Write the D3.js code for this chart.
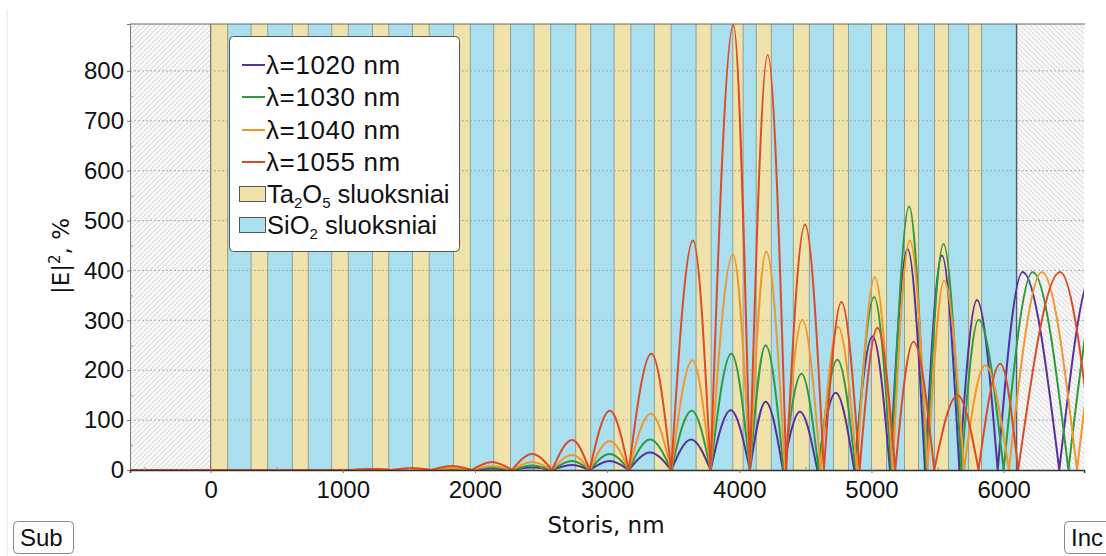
<!DOCTYPE html>
<html>
<head>
<meta charset="UTF-8">
<title>|E|2 pasiskirstymas veidrodyje</title>
<script src="https://cdn.jsdelivr.net/npm/d3@7"></script>
<style>
  body { margin: 0; background: #fff; }
  svg text { font-family: "Liberation Sans", Arial, sans-serif; fill: #111; }
</style>
</head>
<body>
<svg id="svg" width="1106" height="556"></svg>
<script>
// sluoksniu storiai, nm (pradedant nuo padeklo puses: Ta2O5, SiO2, Ta2O5, ...)
var ta2o5 = [129, 126, 121, 126, 124, 127, 127, 127, 127, 114, 127, 127, 114, 78, 114, 121, 114, 114, 106, 106, 98];
var sio2  = [177, 186, 177, 182, 179, 184, 177, 177, 189, 177, 177, 189, 164, 99, 167, 182, 174, 136, 121, 152, 265];

var xTicks = [0, 1000, 2000, 3000, 4000, 5000, 6000];
var yTicks = [0, 100, 200, 300, 400, 500, 600, 700, 800];

var seriesNames = ["λ=1020 nm", "λ=1030 nm", "λ=1040 nm", "λ=1055 nm"];

// |E|^2, % : nuliai ir maksimumai pakaitomis [storis nm, reiksme]
var e1020 = [[-610, 0], [230, 0], [1065, 0], [1220, 0.3], [1370, 0], [1523, 0.6], [1672, 0], [1826, 1.5], [1975, 0],
  [2129, 3], [2280, 0], [2433, 5], [2583, 0], [2735, 10], [2868, 0], [3020, 18], [3164, 0], [3325, 35], [3485, 0],
  [3635, 61], [3783, 0], [3935, 120], [4080, 0], [4199, 137], [4330, 0], [4459, 117], [4590, 0], [4730, 155], [4870, 0],
  [5008, 268], [5140, 0], [5273, 443], [5405, 0], [5533, 430], [5665, 0], [5798, 341], [5955, 0], [6144, 397], [6421, 0],
  [6676, 397], [6930, 0]];
var e1030 = [[-610, 0], [230, 0], [1065, 0], [1220, 0.5], [1370, 0], [1523, 1], [1672, 0], [1826, 2.5], [1975, 0],
  [2129, 5], [2280, 0], [2433, 9], [2583, 0], [2735, 18], [2868, 0], [3020, 32], [3164, 0], [3325, 61], [3485, 0],
  [3640, 119], [3783, 0], [3940, 233], [4080, 0], [4199, 250], [4335, 0], [4470, 193], [4600, 0], [4742, 221], [4880, 0],
  [5020, 347], [5150, 0], [5285, 528], [5415, 0], [5545, 453], [5680, 0], [5810, 301], [6000, 0], [6220, 397], [6490, 0],
  [6750, 397], [7010, 0]];
var e1040 = [[-610, 0], [230, 0], [1065, 0], [1220, 1], [1370, 0], [1523, 2], [1672, 0], [1826, 4], [1975, 0],
  [2129, 8], [2280, 0], [2433, 16], [2583, 0], [2735, 30], [2868, 0], [3020, 58], [3164, 0], [3330, 113], [3485, 0],
  [3645, 220], [3783, 0], [3952, 432], [4080, 0], [4204, 438], [4345, 0], [4477, 301], [4615, 0], [4747, 287], [4890, 0],
  [5025, 387], [5160, 0], [5290, 460], [5425, 0], [5550, 380], [5700, 0], [5860, 210], [6040, 0], [6290, 397], [6555, 0],
  [6820, 397], [7080, 0]];
var e1055 = [[-610, 0], [230, 0], [1065, 0], [1220, 2], [1370, 0], [1523, 4], [1672, 0], [1826, 8], [1975, 0],
  [2129, 16], [2280, 0], [2433, 32], [2583, 0], [2735, 60], [2868, 0], [3020, 119], [3164, 0], [3335, 233], [3485, 0],
  [3650, 460], [3783, 0], [3955, 892], [4080, 0], [4215, 832], [4355, 0], [4497, 492], [4640, 0], [4773, 337], [4910, 0],
  [5045, 285], [5180, 0], [5318, 257], [5475, 0], [5651, 150], [5810, 0], [5975, 213], [6110, 0], [6427, 397], [6690, 0]];

var colors = ["#55309a", "#2e9a3c", "#f3962a", "#dc4a26"];
var taColor = "#efe2ab", siColor = "#a9dfee";

var svg = d3.select("svg");
var pLeft = 130, pRight = 1084, pTop = 24, pBottom = 470;

var x = d3.scaleLinear().domain([-610, 6608]).range([pLeft, pRight]);
var y = d3.scaleLinear().domain([0, 894]).range([pBottom, pTop]);

var defs = svg.append("defs");
defs.append("clipPath").attr("id", "plotClip")
    .append("rect").attr("x", pLeft).attr("y", pTop).attr("width", pRight - pLeft).attr("height", pBottom - pTop);

function hatch(id, d) {
    var p = defs.append("pattern").attr("id", id).attr("patternUnits", "userSpaceOnUse")
        .attr("width", 5).attr("height", 5);
    p.append("rect").attr("width", 5).attr("height", 5).attr("fill", "#f7f7f7");
    p.append("path").attr("d", d).attr("stroke", "#d6d6d6").attr("stroke-width", 0.9);
}
hatch("hatchSub", "M-1,1 l2,-2 M0,5 l5,-5 M4,6 l2,-2");
hatch("hatchInc", "M-1,4 l2,2 M0,0 l5,5 M4,-1 l2,2");

// panelio krastas
svg.append("line").attr("x1", 7).attr("x2", 7).attr("y1", 10).attr("y2", 556)
    .attr("stroke", "#e2e2e2");

// sluoksniai
var layers = [];
var z = 0;
for (var i = 0; i < ta2o5.length; i++) {
    layers.push({ x0: z, x1: z + ta2o5[i], fill: taColor }); z += ta2o5[i];
    layers.push({ x0: z, x1: z + sio2[i], fill: siColor }); z += sio2[i];
}
var stackEnd = z;

var plot = svg.append("g").attr("clip-path", "url(#plotClip)");

plot.append("rect").attr("x", pLeft).attr("y", pTop)
    .attr("width", x(0) - pLeft).attr("height", pBottom - pTop).attr("fill", "url(#hatchSub)");
plot.append("rect").attr("x", x(stackEnd)).attr("y", pTop)
    .attr("width", pRight - x(stackEnd)).attr("height", pBottom - pTop).attr("fill", "url(#hatchInc)");

plot.selectAll("rect.layer").data(layers).enter().append("rect")
    .attr("class", "layer")
    .attr("x", function (d) { return x(d.x0); })
    .attr("y", pTop)
    .attr("width", function (d) { return x(d.x1) - x(d.x0); })
    .attr("height", pBottom - pTop)
    .attr("fill", function (d) { return d.fill; });

plot.selectAll("line.edge").data(layers.slice(1)).enter().append("line")
    .attr("class", "edge")
    .attr("x1", function (d) { return x(d.x0); }).attr("x2", function (d) { return x(d.x0); })
    .attr("y1", pTop).attr("y2", pBottom)
    .attr("stroke", "#8f9e92").attr("stroke-width", 1);

plot.append("line").attr("x1", x(0)).attr("x2", x(0)).attr("y1", pTop).attr("y2", pBottom)
    .attr("stroke", "#6f7a70").attr("stroke-width", 1.2);
plot.append("line").attr("x1", x(stackEnd)).attr("x2", x(stackEnd)).attr("y1", pTop).attr("y2", pBottom)
    .attr("stroke", "#4d5d6a").attr("stroke-width", 1.4);

// tinklelis
plot.selectAll("line.grid").data(yTicks.slice(1)).enter().append("line")
    .attr("class", "grid")
    .attr("x1", pLeft).attr("x2", pRight)
    .attr("y1", function (d) { return y(d); }).attr("y2", function (d) { return y(d); })
    .attr("stroke", "#9a9a9a").attr("stroke-width", 0.8).attr("stroke-dasharray", "2,2");

// kreives: kiekviena arka (nulis-maksimumas-nulis) atskirai
var arch = d3.line()
    .x(function (d) { return x(d[0]); })
    .y(function (d) { return y(d[1]); })
    .curve(d3.curveMonotoneX);

function archPath(pts) {
    var d = "";
    for (var i = 0; i + 2 < pts.length; i += 2) d += arch(pts.slice(i, i + 3));
    return d;
}

var allSeries = [e1020, e1030, e1040, e1055];
allSeries.forEach(function (s, k) {
    plot.append("path").attr("d", archPath(s))
        .attr("fill", "none").attr("stroke", colors[k]).attr("stroke-width", 2)
        .attr("stroke-linejoin", "round");
});

// remelis
svg.append("line").attr("x1", pLeft).attr("x2", pRight + 1).attr("y1", pTop).attr("y2", pTop)
    .attr("stroke", "#666");

// asys
var yAxis = svg.append("g").attr("transform", "translate(" + pLeft + ",0)")
    .call(d3.axisLeft(y).tickValues(yTicks).tickSize(3).tickPadding(3));
yAxis.select(".domain").attr("stroke", "#777");
yAxis.selectAll(".tick line").attr("stroke", "#777");
yAxis.selectAll(".tick text").style("font-size", "24px").attr("fill", "#111");

svg.append("g").attr("transform", "translate(" + pLeft + ",0)")
    .call(d3.axisLeft(y).tickValues([50, 150, 250, 350, 450, 550, 650, 750, 850]).tickSize(-3).tickFormat(""))
    .call(function (g) { g.select(".domain").remove(); g.selectAll("line").attr("stroke", "#999"); });

var xAxis = svg.append("g").attr("transform", "translate(0," + pBottom + ")")
    .call(d3.axisBottom(x).tickValues(xTicks).tickFormat(d3.format("d")).tickSize(3).tickPadding(8));
xAxis.select(".domain").attr("stroke", "#333").attr("stroke-width", 1.5);
xAxis.selectAll(".tick line").attr("stroke", "#777");
xAxis.selectAll(".tick text").style("font-size", "24px").attr("fill", "#111");

svg.append("g").attr("transform", "translate(0," + pBottom + ")")
    .call(d3.axisBottom(x).tickValues([-500, 500, 1500, 2500, 3500, 4500, 5500, 6500]).tickSize(-3).tickFormat(""))
    .call(function (g) { g.select(".domain").remove(); g.selectAll("line").attr("stroke", "#999"); });

svg.append("text").attr("x", 606).attr("y", 533).attr("text-anchor", "middle")
    .style("font-family", "'DejaVu Sans', Verdana, sans-serif").style("font-size", "23px")
    .text("Storis, nm");

var yt = svg.append("text").attr("transform", "translate(69,256) rotate(-90)").attr("text-anchor", "middle")
    .style("font-family", "'DejaVu Sans', Verdana, sans-serif").style("font-size", "23px");
yt.append("tspan").text("|E|");
yt.append("tspan").attr("dy", -9).style("font-size", "15px").text("2");
yt.append("tspan").attr("dy", 9).text(", %");

// legenda
var lg = svg.append("g");
lg.append("rect").attr("x", 229.5).attr("y", 36.5).attr("width", 230).attr("height", 215)
    .attr("rx", 4).attr("fill", "#fff").attr("stroke", "#555");

var rowY = [65, 97, 130, 162, 194, 225];
seriesNames.forEach(function (name, k) {
    lg.append("line").attr("x1", 242).attr("x2", 265).attr("y1", rowY[k]).attr("y2", rowY[k])
        .attr("stroke", colors[k]).attr("stroke-width", 2);
    lg.append("text").attr("x", 266).attr("y", rowY[k] + 9).style("font-size", "26px")
        .style("letter-spacing", "0.6px").text(name);
});

var layerLegend = [
    { fill: taColor, parts: [["Ta", 0], ["2", 1], ["O", 0], ["5", 1], [" sluoksniai", 0]] },
    { fill: siColor, parts: [["SiO", 0], ["2", 1], [" sluoksniai", 0]] }
];
layerLegend.forEach(function (it, k) {
    var ry = rowY[4 + k];
    lg.append("rect").attr("x", 239.5).attr("y", ry - 7.5).attr("width", 26).attr("height", 15)
        .attr("fill", it.fill).attr("stroke", "#555");
    var t = lg.append("text").attr("x", 267).attr("y", ry + 9).style("font-size", "25.5px");
    var sub = 0;
    it.parts.forEach(function (p) {
        var ts = t.append("tspan").text(p[0]);
        if (p[1] && !sub) { ts.attr("dy", 5).style("font-size", "15px"); sub = 1; }
        else if (!p[1] && sub) { ts.attr("dy", -5); sub = 0; }
        else if (p[1]) { ts.style("font-size", "15px"); }
    });
});

// mygtukai
[["Sub", 13], ["Inc", 1064]].forEach(function (b) {
    svg.append("rect").attr("x", b[1] + 0.5).attr("y", 521.5).attr("width", 60).attr("height", 32)
        .attr("rx", 4).attr("fill", "#fdfdfd").attr("stroke", "#888");
    svg.append("text").attr("x", b[1] + 7).attr("y", 546).style("font-size", "24px").text(b[0]);
});
</script>
</body>
</html>
